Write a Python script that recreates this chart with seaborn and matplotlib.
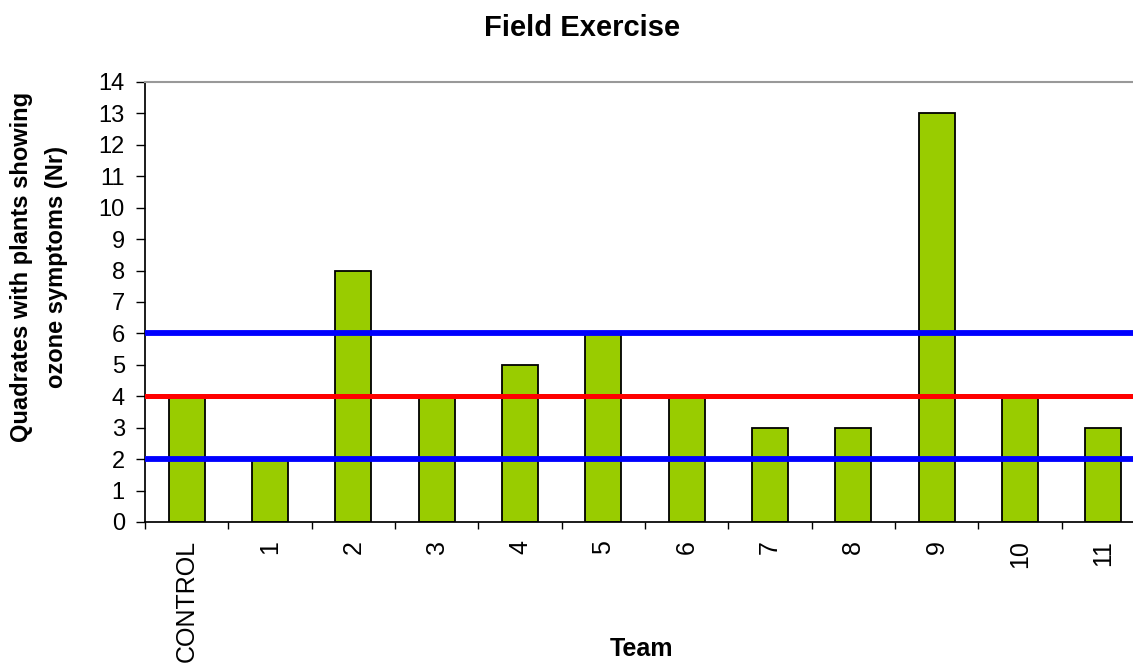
import matplotlib
matplotlib.use("Agg")
import matplotlib.pyplot as plt
import seaborn as sns
import pandas as pd

teams = ["CONTROL", "1", "2", "3", "4", "5", "6", "7", "8", "9", "10", "11"]
quadrates = [4, 2, 8, 4, 5, 6, 4, 3, 3, 13, 4, 3]
mean_level = 4
band_levels = [2, 6]

sns.set_theme(style="white")
plt.rcParams["font.family"] = ["Liberation Sans", "DejaVu Sans"]
plt.rcParams["text.color"] = "black"
plt.rcParams["xtick.color"] = "black"
plt.rcParams["ytick.color"] = "black"

df = pd.DataFrame({"Team": teams, "Quadrates": quadrates})

W, H = 1133, 664
fig = plt.figure(figsize=(W / 100, H / 100), dpi=100)
ax = fig.add_axes([145 / W, (H - 522) / H, 1000 / W, 440 / H])

sns.barplot(data=df, x="Team", y="Quadrates", order=teams, color="#99CC00",
            saturation=1, width=0.43, edgecolor="black", linewidth=1.3, ax=ax,
            zorder=2)

for lvl in band_levels:
    ax.axhline(lvl, color="#0000FF", linewidth=4.2, zorder=3)
ax.axhline(mean_level, color="#FF0000", linewidth=3.6, zorder=3)

ax.set_xlim(-0.5, len(teams) - 0.5)
ax.set_ylim(0, 14)
ax.set_yticks(range(0, 15))
ax.set_xticks(range(len(teams)))
ax.set_xticklabels(teams, rotation=90, fontsize=18)
ax.tick_params(axis="y", labelsize=17, length=6.5, width=1, direction="out",
               left=True, color="black", pad=8)
ax.tick_params(axis="x", length=0, pad=13, labelcolor="black")
# ticks on the boundaries between categories
ax.set_xticks([i - 0.5 for i in range(len(teams) + 1)], minor=True)
ax.tick_params(axis="x", which="minor", length=5, width=1, direction="out",
               bottom=True, color="black")

ax.spines["right"].set_visible(False)
ax.spines["top"].set_color("#999999")
ax.spines["top"].set_linewidth(1.5)
ax.spines["left"].set_color("black")
ax.spines["bottom"].set_color("black")
ax.set_xlabel("")
ax.set_ylabel("")

# axis titles
fig.text(642 / W, 1 - 649 / H, "Team", ha="center", va="center",
         fontsize=18, fontweight="bold")
fig.text(22 / W, 1 - 267 / H, "Quadrates with plants showing", rotation=90,
         ha="center", va="center", fontsize=17, fontweight="bold")
fig.text(57 / W, 1 - 267 / H, "ozone symptoms (Nr)", rotation=90,
         ha="center", va="center", fontsize=17, fontweight="bold")
fig.text(582 / W, 1 - 27.5 / H, "Field Exercise", ha="center", va="center",
         fontsize=21, fontweight="bold")

fig.savefig("out.png", dpi=100)
